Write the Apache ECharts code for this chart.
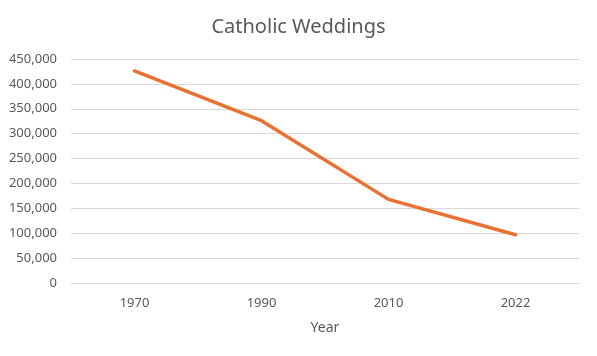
<!DOCTYPE html>
<html><head><meta charset="utf-8">
<script src="https://cdn.jsdelivr.net/npm/echarts@6/dist/echarts.min.js"></script>
<style>html,body{margin:0;padding:0;background:#fff}#c{width:597px;height:356px}</style>
</head><body><div id="c"></div>
<script>
const categories = ['1970', '1990', '2010', '2022'];
const weddings = [426000, 326000, 168000, 97000];
const title = 'Catholic Weddings';
const xName = 'Year';

const chart = echarts.init(document.getElementById('c'), null, {renderer: 'canvas'});
const fmt = v => v.toLocaleString('en-US');
chart.setOption({
  animation: false,
  backgroundColor: '#fff',
  textStyle: {fontFamily: 'Noto Sans'},
  title: {text: title, left: 'center', top: 12,
    textStyle: {fontSize: 20, fontWeight: 'normal', color: '#595959', fontFamily: 'Noto Sans'}},
  grid: {left: 71, right: 18, top: 59, bottom: 73},
  xAxis: {type: 'category', data: categories, boundaryGap: true,
    name: xName, nameLocation: 'middle', nameGap: 38,
    nameTextStyle: {fontSize: 14, color: '#595959'},
    axisLine: {lineStyle: {color: '#D9D9D9'}}, axisTick: {show: false},
    axisLabel: {fontSize: 13, color: '#595959', margin: 14}},
  yAxis: {type: 'value', min: 0, max: 450000, interval: 50000,
    axisLabel: {fontSize: 13, color: '#595959', formatter: fmt, margin: 14},
    splitLine: {lineStyle: {color: '#D9D9D9'}}, axisLine: {show: false}, axisTick: {show: false}},
  series: [{type: 'line', data: weddings, showSymbol: false, symbol: 'none',
    lineStyle: {color: '#E97132', width: 3.5, cap: 'round', join: 'round'}, itemStyle: {color: '#E97132'}}]
});
</script></body></html>
